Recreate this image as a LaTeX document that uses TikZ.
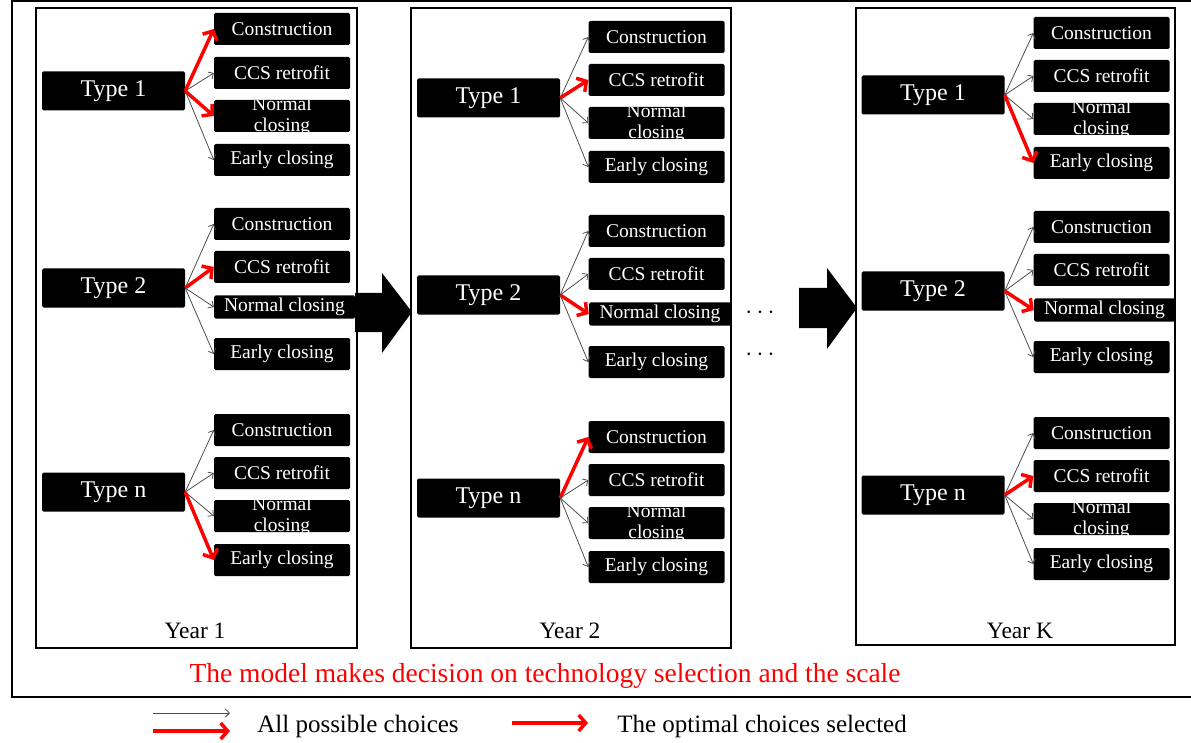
\documentclass[tikz,border=0pt]{standalone}
\usepackage{fontspec}
\setmainfont{Liberation Serif}
\usetikzlibrary{arrows.meta}

\tikzset{
  typebox/.style={fill=black, rounded corners=1.5pt, minimum width=143pt, minimum height=39pt, inner sep=0pt, text=white, font=\fontsize{24}{26}\selectfont},
  choicebox/.style={fill=black, rounded corners=1.5pt, minimum width=136pt, minimum height=32pt, inner sep=0pt, text=white, font=\fontsize{19.5}{21}\selectfont},
  longbox/.style={choicebox, minimum width=#1, minimum height=23pt},
  twoline/.style={choicebox, path picture={\node[text=white, font=\fontsize{19.5}{21}\selectfont, align=center, inner sep=0pt] at (path picture bounding box.center) {#1};}},
  possible/.style={draw=black!70, line width=0.8pt, -{Straight Barb[length=4pt,width=8pt]}},
  optimal/.style={draw=red, line width=3.5pt, -{Straight Barb[length=7pt,width=16pt]}},
  panel/.style={draw, line width=2.5pt},
  label/.style={font=\fontsize{#1}{#1}\selectfont},
}

\begin{document}
\begin{tikzpicture}[x=1pt, y=-1pt]
\useasboundingbox (0,0) rectangle (1191,743);
\draw[line width=2pt] (12,1) rectangle (1200,697);

% year panels
\draw[panel] (36,8) rectangle (357,648);
\draw[panel] (411,8) rectangle (731,648);
\draw[panel] (856,8) rectangle (1175,645);

% big arrows
\fill (355,293) -- (382,293) -- (382,273) -- (412,312) -- (382,353) -- (382,332) -- (355,332) -- cycle;
\fill (799,288) -- (827,288) -- (827,268) -- (857,308) -- (827,349) -- (827,328) -- (799,328) -- cycle;

% Year 1
\node[typebox] (y1t1) at (113.5,91) {Type 1};
\node[choicebox] (y1t1con) at (282,29) {Construction};
\node[choicebox] (y1t1ccs) at (282,73) {CCS retrofit};
\node[twoline={Normal\\closing}] (y1t1nor) at (282,116) {};
\node[choicebox] (y1t1ear) at (282,160) {Early closing};
\draw[optimal] (y1t1.east) -- (y1t1con.west);
\draw[possible] (y1t1.east) -- (y1t1ccs.west);
\draw[optimal] (y1t1.east) -- (y1t1nor.west);
\draw[possible] (y1t1.east) -- (y1t1ear.west);

\node[typebox] (y1t2) at (113.5,288) {Type 2};
\node[choicebox] (y1t2con) at (282,224) {Construction};
\node[choicebox] (y1t2ccs) at (282,267) {CCS retrofit};
\node[longbox=141pt] (y1t2nor) at (284.5,307) {Normal closing};
\node[choicebox] (y1t2ear) at (282,354) {Early closing};
\draw[possible] (y1t2.east) -- (y1t2con.west);
\draw[optimal] (y1t2.east) -- (y1t2ccs.west);
\draw[possible] (y1t2.east) -- (y1t2nor.west);
\draw[possible] (y1t2.east) -- (y1t2ear.west);

\node[typebox] (y1tn) at (113.5,492) {Type n};
\node[choicebox] (y1tncon) at (282,430) {Construction};
\node[choicebox] (y1tnccs) at (282,473) {CCS retrofit};
\node[twoline={Normal\\closing}] (y1tnnor) at (282,516) {};
\node[choicebox] (y1tnear) at (282,560) {Early closing};
\draw[possible] (y1tn.east) -- (y1tncon.west);
\draw[possible] (y1tn.east) -- (y1tnccs.west);
\draw[possible] (y1tn.east) -- (y1tnnor.west);
\draw[optimal] (y1tn.east) -- (y1tnear.west);

% Year 2
\node[typebox] (y2t1) at (488.5,98) {Type 1};
\node[choicebox] (y2t1con) at (656.5,37) {Construction};
\node[choicebox] (y2t1ccs) at (656.5,80) {CCS retrofit};
\node[twoline={Normal\\closing}] (y2t1nor) at (656.5,123) {};
\node[choicebox] (y2t1ear) at (656.5,167) {Early closing};
\draw[possible] (y2t1.east) -- (y2t1con.west);
\draw[optimal] (y2t1.east) -- (y2t1ccs.west);
\draw[possible] (y2t1.east) -- (y2t1nor.west);
\draw[possible] (y2t1.east) -- (y2t1ear.west);

\node[typebox] (y2t2) at (488.5,295) {Type 2};
\node[choicebox] (y2t2con) at (656.5,231) {Construction};
\node[choicebox] (y2t2ccs) at (656.5,274) {CCS retrofit};
\node[longbox=142pt] (y2t2nor) at (660,314) {Normal closing};
\node[choicebox] (y2t2ear) at (656.5,362) {Early closing};
\draw[possible] (y2t2.east) -- (y2t2con.west);
\draw[possible] (y2t2.east) -- (y2t2ccs.west);
\draw[optimal] (y2t2.east) -- (y2t2nor.west);
\draw[possible] (y2t2.east) -- (y2t2ear.west);

\node[typebox] (y2tn) at (488.5,498) {Type n};
\node[choicebox] (y2tncon) at (656.5,437) {Construction};
\node[choicebox] (y2tnccs) at (656.5,480) {CCS retrofit};
\node[twoline={Normal\\closing}] (y2tnnor) at (656.5,523) {};
\node[choicebox] (y2tnear) at (656.5,567) {Early closing};
\draw[optimal] (y2tn.east) -- (y2tncon.west);
\draw[possible] (y2tn.east) -- (y2tnccs.west);
\draw[possible] (y2tn.east) -- (y2tnnor.west);
\draw[possible] (y2tn.east) -- (y2tnear.west);

% Year K
\node[typebox] (yKt1) at (933,95) {Type 1};
\node[choicebox] (yKt1con) at (1101.5,33) {Construction};
\node[choicebox] (yKt1ccs) at (1101.5,76) {CCS retrofit};
\node[twoline={Normal\\closing}] (yKt1nor) at (1101.5,119) {};
\node[choicebox] (yKt1ear) at (1101.5,163) {Early closing};
\draw[possible] (yKt1.east) -- (yKt1con.west);
\draw[possible] (yKt1.east) -- (yKt1ccs.west);
\draw[possible] (yKt1.east) -- (yKt1nor.west);
\draw[optimal] (yKt1.east) -- (yKt1ear.west);

\node[typebox] (yKt2) at (933,291) {Type 2};
\node[choicebox] (yKt2con) at (1101.5,227) {Construction};
\node[choicebox] (yKt2ccs) at (1101.5,270) {CCS retrofit};
\node[longbox=141pt] (yKt2nor) at (1104.5,310) {Normal closing};
\node[choicebox] (yKt2ear) at (1101.5,357) {Early closing};
\draw[possible] (yKt2.east) -- (yKt2con.west);
\draw[possible] (yKt2.east) -- (yKt2ccs.west);
\draw[optimal] (yKt2.east) -- (yKt2nor.west);
\draw[possible] (yKt2.east) -- (yKt2ear.west);

\node[typebox] (yKtn) at (933,495) {Type n};
\node[choicebox] (yKtncon) at (1101.5,433) {Construction};
\node[choicebox] (yKtnccs) at (1101.5,476) {CCS retrofit};
\node[twoline={Normal\\closing}] (yKtnnor) at (1101.5,519) {};
\node[choicebox] (yKtnear) at (1101.5,564) {Early closing};
\draw[possible] (yKtn.east) -- (yKtncon.west);
\draw[optimal] (yKtn.east) -- (yKtnccs.west);
\draw[possible] (yKtn.east) -- (yKtnnor.west);
\draw[possible] (yKtn.east) -- (yKtnear.west);

% dots between Year 2 and Year K
\node[label=26] (dots1) at (760,313) {$\cdots$};
\node[label=26] (dots2) at (760,355) {$\cdots$};

% labels
\node[label=23.5] (year1) at (195,631) {Year 1};
\node[label=23.5] (year2) at (570,631) {Year 2};
\node[label=23.5] (yearK) at (1020,631) {Year K};
\node[label=27.5, text=red] (model) at (545,676) {The model makes decision on technology selection and the scale};

% legend
\coordinate (lg1a) at (153,713);
\coordinate (lg1b) at (230,713);
\coordinate (lg2a) at (153,731);
\coordinate (lg2b) at (230,731);
\coordinate (lg3a) at (512,723);
\coordinate (lg3b) at (588,723);
\draw[possible] (lg1a) -- (lg1b);
\draw[optimal] (lg2a) -- (lg2b);
\node[label=25] (allchoices) at (358,726) {All possible choices};
\draw[optimal] (lg3a) -- (lg3b);
\node[label=25] (optchoices) at (762,726) {The optimal choices selected};
\end{tikzpicture}
\end{document}
